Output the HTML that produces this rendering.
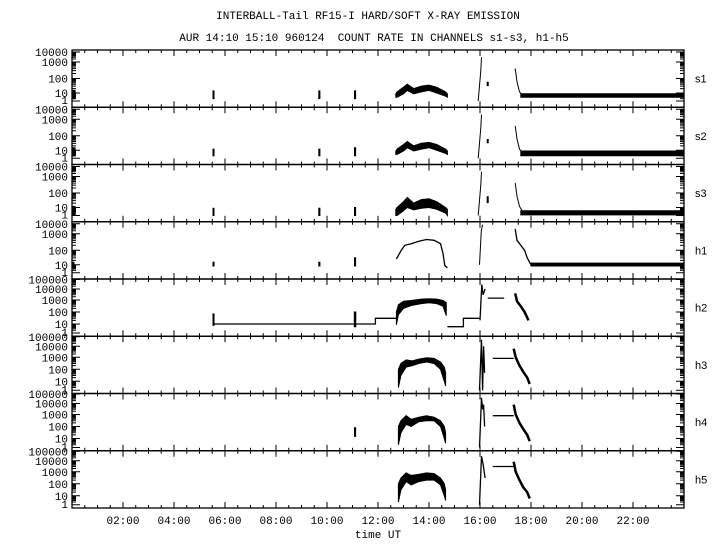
<!DOCTYPE html>
<html><head><meta charset="utf-8"><style>
html,body{margin:0;padding:0;background:#fff;}
svg{display:block;font-family:"Liberation Mono",monospace;}
</style></head><body>
<svg id="chart" width="720" height="550" viewBox="0 0 720 550">
<text x="368" y="19" font-size="11" text-anchor="middle">INTERBALL-Tail RF15-I HARD/SOFT X-RAY EMISSION</text>
<text x="374" y="41" font-size="11" text-anchor="middle" xml:space="preserve">AUR 14:10 15:10 960124  COUNT RATE IN CHANNELS s1-s3, h1-h5</text>
<text x="378" y="538" font-size="11" text-anchor="middle">time UT</text>
<g id="plots"></g>
</svg>
<script>
// ---- data ----
const panelNames = ["s1","s2","s3","h1","h2","h3","h4","h5"];
const xTickLabels = ["02:00","04:00","06:00","08:00","10:00","12:00","14:00","16:00","18:00","20:00","22:00"];
const xTickHours = [2,4,6,8,10,12,14,16,18,20,22];
const sDecades = [10000,1000,100,10,1];
const hDecades = [100000,10000,1000,100,10,1];

// s1
const s1BandT = [0.02,0.12, 5.53,5.57, 9.68,9.72, 11.08,11.12, 12.7,12.75,13.0,13.15,13.4,13.7,14.0,14.3,14.65,14.72, 17.6,24];
const s1BandLo= [2,2, 2,2, 2,2, 2,2, 3,3,8,15,8,12,15,10,4,3, 3,3];
const s1BandHi= [15,15, 14,14, 14,14, 14,14, 8,12,25,40,20,30,35,25,12,8, 8,8];
const s1BandSeg=[0,0, 1,1, 2,2, 3,3, 4,4,4,4,4,4,4,4,4,4, 5,5];
const s1LineT = [15.93,16.03,16.06]; const s1LineV = [1,300,3000];
const s1DecayT = [17.38,17.45,17.55,17.65]; const s1DecayV = [400,60,12,6];
// s2
const s2BandT = [0.02,0.12, 5.53,5.57, 9.68,9.72, 11.08,11.12, 12.7,12.75,13.0,13.15,13.4,13.7,14.0,14.3,14.65,14.72, 17.6,24];
const s2BandLo= [2,2, 2,2, 2,2, 2,2, 3,3,8,15,8,12,15,10,4,3, 2,2];
const s2BandHi= [15,15, 12,12, 12,12, 15,15, 8,12,25,40,20,30,35,25,12,8, 8,8];
const s2BandSeg=[0,0, 1,1, 2,2, 3,3, 4,4,4,4,4,4,4,4,4,4, 5,5];
const s2LineT = [15.93,16.03,16.06]; const s2LineV = [1,300,3000];
const s2DecayT = [17.38,17.45,17.55,17.65]; const s2DecayV = [400,60,12,6];
// s3
const s3BandT = [0.02,0.12, 5.53,5.57, 9.68,9.72, 11.08,11.12, 12.7,12.75,13.0,13.15,13.4,13.7,14.0,14.3,14.65,14.72, 17.6,24];
const s3BandLo= [1,1, 1,1, 1,1, 1,1, 1,1,4,10,5,8,10,6,2,1, 1.2,1.2];
const s3BandHi= [12,12, 8,8, 8,8, 10,10, 6,10,25,50,20,35,40,25,10,6, 4,4];
const s3BandSeg=[0,0, 1,1, 2,2, 3,3, 4,4,4,4,4,4,4,4,4,4, 5,5];
const s3LineT = [15.93,16.03,16.06]; const s3LineV = [1,300,3000];
const s3DecayT = [17.38,17.45,17.55,17.65]; const s3DecayV = [400,60,12,4];
// h1
const h1BandT = [0.02,0.08, 5.53,5.57, 9.68,9.72, 11.08,11.12, 18.0,24];
const h1BandLo= [7,7, 7,7, 7,7, 7,7, 7,7];
const h1BandHi= [15,15, 15,15, 15,15, 30,30, 13,13];
const h1BandSeg=[0,0, 1,1, 2,2, 3,3, 4,4];
const h1LineT = [12.72,12.9,13.05,13.3,13.6,13.9,14.2,14.45,14.55,14.62,14.72];
const h1LineV = [25,90,200,250,350,450,400,250,60,8,4];
const h1SpikeT = [15.98,16.05,16.1]; const h1SpikeV = [10,2000,8000];
const h1DecayT = [17.38,17.45,17.6,17.75,17.85,18.0]; const h1DecayV = [3000,400,200,100,30,10];
// h2
const h2StepT = [5.55,11.9,11.9,12.72,12.72,14.72,14.72,15.35,15.35,16.0];
const h2StepV = [10,10,30,30,null,null,5,5,30,30];
const h2BandT = [5.53,5.57, 11.07,11.13, 12.72,12.8,13.0,13.3,13.7,14.0,14.3,14.55,14.68];
const h2BandLo= [7,7, 5,5, 8,60,200,350,500,600,500,300,50];
const h2BandHi= [70,70, 100,100, 100,400,800,900,1200,1300,1200,900,600];
const h2BandSeg=[0,0, 1,1, 2,2,2,2,2,2,2,2,2];
const h2SpikeT = [16.0,16.07,16.12,16.2]; const h2SpikeV = [20,30000,3000,10000];
const h2PlatT = [16.3,16.95]; const h2PlatV = [1500,1500];
const h2DecayT = [17.38,17.45,17.6,17.75,17.9]; const h2DecayV = [4000,800,300,100,20];
// h3
const h3BandT = [12.8,12.9,13.1,13.35,13.6,13.9,14.2,14.45,14.6,14.65];
const h3BandLo= [2,30,150,200,300,400,300,100,10,3];
const h3BandHi= [100,300,600,500,700,900,800,400,150,50];
const h3SpikeT = [15.98,16.06,16.1,16.14,16.18]; const h3SpikeV = [1,50000,1,10000,50];
const h3PlatT = [16.5,17.32]; const h3PlatV = [800,800];
const h3DecayT = [17.32,17.4,17.55,17.7,17.85,17.95]; const h3DecayV = [6000,1000,200,60,20,5];
// h4
const h4BandT = [11.08,11.12, 12.8,12.9,13.1,13.3,13.6,13.9,14.2,14.45,14.6,14.65];
const h4BandLo= [15,15, 2,30,150,100,250,300,300,100,10,3];
const h4BandHi= [80,80, 100,300,800,400,600,800,600,300,100,30];
const h4BandSeg=[0,0, 1,1,1,1,1,1,1,1,1,1];
const h4SpikeT = [15.98,16.06,16.1,16.14,16.18]; const h4SpikeV = [1,40000,3000,8000,100];
const h4PlatT = [16.5,17.32]; const h4PlatV = [800,800];
const h4DecayT = [17.32,17.4,17.55,17.7,17.85,17.95]; const h4DecayV = [8000,1000,200,60,20,5];
// h5
const h5BandT = [12.8,12.9,13.1,13.3,13.6,13.9,14.2,14.45,14.6,14.65];
const h5BandLo= [2,30,150,80,150,200,200,80,10,3];
const h5BandHi= [100,300,800,500,600,800,700,300,100,30];
const h5SpikeT = [15.98,16.06,16.12,16.2]; const h5SpikeV = [1,30000,5000,300];
const h5PlatT = [16.5,17.32]; const h5PlatV = [3000,3000];
const h5DecayT = [17.32,17.4,17.55,17.7,17.85,17.95]; const h5DecayV = [8000,1000,200,50,20,5];

// ---- layout ----
const X0 = 72, X1 = 684, TOP = 50, BOT = 508;
const PH = (BOT - TOP) / 8;
const sOffs = [2,12,28.5,43,51];
const hOffs = [0.5,10,21,33,45,54];
const NS = "http://www.w3.org/2000/svg";
const root = document.getElementById("plots");

function xScale(t){ return X0 + t * (X1 - X0) / 24; }
function yScale(p, v){
  const dec = p <= 3 ? sDecades : hDecades;
  const offs = p <= 3 ? sOffs : hOffs;
  const top = TOP + p * PH;
  const lv = Math.log10(Math.max(v, 0.5));
  const ld = dec.map(d => Math.log10(d));
  let off;
  if (lv >= ld[0]) off = offs[0];
  else if (lv <= ld[ld.length-1]) off = offs[offs.length-1] + (ld[ld.length-1]-lv)*6;
  else {
    for (let i = 0; i < ld.length-1; i++) {
      if (lv <= ld[i] && lv >= ld[i+1]) {
        const f = (ld[i]-lv)/(ld[i]-ld[i+1]);
        off = offs[i] + f*(offs[i+1]-offs[i]); break;
      }
    }
  }
  return Math.min(top + off, top + PH - 0.5);
}
function mk(tag, attrs){ const e = document.createElementNS(NS, tag); for (const k in attrs) e.setAttribute(k, attrs[k]); return e; }

function drawBand(g, p, T, Lo, Hi, Seg, name){
  const segs = {};
  T.forEach((t,i) => { const s = Seg ? Seg[i] : 0; (segs[s] = segs[s] || []).push(i); });
  Object.keys(segs).forEach(s => {
    const idx = segs[s];
    const up = idx.map(i => xScale(T[i]).toFixed(1)+","+yScale(p,Hi[i]).toFixed(1));
    const dn = idx.slice().reverse().map(i => xScale(T[i]).toFixed(1)+","+yScale(p,Lo[i]).toFixed(1));
    const el = mk("polygon", {points: up.concat(dn).join(" "), fill:"#000", stroke:"#000", "stroke-width":"1"});
    
    
    g.appendChild(el);
  });
}
function drawLine(g, p, T, V, name, w){
  let d = "", pen = false;
  T.forEach((t,i) => {
    if (V[i] === null) { pen = false; return; }
    d += (pen ? "L" : "M") + xScale(t).toFixed(1) + "," + yScale(p,V[i]).toFixed(1);
    pen = true;
  });
  const el = mk("path", {d: d, fill:"none", stroke:"#000", "stroke-width": w || 1.3});
  
  
  g.appendChild(el);
}

for (let p = 0; p < 8; p++) {
  const top = TOP + p * PH, bot = top + PH;
  const g = mk("g", {});
  
  
  root.appendChild(g);
  const frame = mk("rect", {x:X0, y:top, width:X1-X0, height:PH, fill:"none", stroke:"#000", "stroke-width":"1.3"});
  
  
  g.appendChild(frame);
  for (let h = 0; h <= 24; h += 0.5) {
    const x = xScale(h), major = (h % 2 === 0);
    const len = major ? 6 : 3;
    const tk = mk("path", {d:`M${x},${top}v${len}M${x},${bot}v${-len}`, stroke:"#000", "stroke-width":"1"});
    
    
    g.appendChild(tk);
  }
  const dec = p <= 3 ? sDecades : hDecades;
  dec.forEach(dv => {
    const y = yScale(p, dv);
    const tk = mk("path", {d:`M${X0},${y}h8M${X1},${y}h-8`, stroke:"#000", "stroke-width":"1"});
    
    
    g.appendChild(tk);
    const lb = mk("text", {x:68, y:(dv===1? Math.min(y+3,bot+3): y+4), "font-size":"11", "text-anchor":"end"});
    lb.textContent = String(dv);
    
    
    g.appendChild(lb);
    if (dv > 1) for (let m = 2; m <= 9; m++) {
      const ym = yScale(p, dv / 10 * m);
      const mt = mk("path", {d:`M${X0},${ym}h4M${X1},${ym}h-4`, stroke:"#000", "stroke-width":"1"});
      
      
      g.appendChild(mt);
    }
  });
  const pl = mk("text", {x:695, y:top+PH/2+4, "font-size":"11", "font-family":"Liberation Sans, sans-serif"});
  pl.textContent = panelNames[p];
  
  
  g.appendChild(pl);
}
xTickHours.forEach((h,i) => {
  const t = mk("text", {x:xScale(h), y:524, "font-size":"11", "text-anchor":"middle"});
  t.textContent = xTickLabels[i];
  
  
  root.appendChild(t);
});
const D = document.createElementNS(NS,"g"); root.appendChild(D);
drawBand(D,0,s1BandT,s1BandLo,s1BandHi,s1BandSeg,'s1-band'); drawLine(D,0,s1LineT,s1LineV,'s1-spike',1); drawLine(D,0,s1DecayT,s1DecayV,'s1-decay',1);
drawLine(D,0,[16.3,16.3],[30,60],'s1-dot',2);
drawBand(D,1,s2BandT,s2BandLo,s2BandHi,s2BandSeg,'s2-band'); drawLine(D,1,s2LineT,s2LineV,'s2-spike',1); drawLine(D,1,s2DecayT,s2DecayV,'s2-decay',1);
drawLine(D,1,[16.3,16.3],[30,60],'s2-dot',2);
drawBand(D,2,s3BandT,s3BandLo,s3BandHi,s3BandSeg,'s3-band'); drawLine(D,2,s3LineT,s3LineV,'s3-spike',1); drawLine(D,2,s3DecayT,s3DecayV,'s3-decay',1);
drawLine(D,2,[16.3,16.3],[20,60],'s3-dot',2);
drawBand(D,3,h1BandT,h1BandLo,h1BandHi,h1BandSeg,'h1-band'); drawLine(D,3,h1LineT,h1LineV,'h1-curve',1.3); drawLine(D,3,h1SpikeT,h1SpikeV,'h1-spike',1); drawLine(D,3,h1DecayT,h1DecayV,'h1-decay',1.3);
drawLine(D,4,h2StepT,h2StepV,'h2-step-line',1.3); drawBand(D,4,h2BandT,h2BandLo,h2BandHi,h2BandSeg,'h2-band'); drawLine(D,4,h2SpikeT,h2SpikeV,'h2-spike',1.3); drawLine(D,4,h2PlatT,h2PlatV,'h2-plateau',1.3); drawLine(D,4,h2DecayT,h2DecayV,'h2-decay',2.5);
drawBand(D,5,h3BandT,h3BandLo,h3BandHi,null,'h3-band'); drawLine(D,5,h3SpikeT,h3SpikeV,'h3-spike',1.3); drawLine(D,5,h3PlatT,h3PlatV,'h3-plateau',1.3); drawLine(D,5,h3DecayT,h3DecayV,'h3-decay',2.5);
drawBand(D,6,h4BandT,h4BandLo,h4BandHi,h4BandSeg,'h4-band'); drawLine(D,6,h4SpikeT,h4SpikeV,'h4-spike',1.3); drawLine(D,6,h4PlatT,h4PlatV,'h4-plateau',1.3); drawLine(D,6,h4DecayT,h4DecayV,'h4-decay',2.5);
drawBand(D,7,h5BandT,h5BandLo,h5BandHi,null,'h5-band'); drawLine(D,7,h5SpikeT,h5SpikeV,'h5-spike',1.3); drawLine(D,7,h5PlatT,h5PlatV,'h5-plateau',1.3); drawLine(D,7,h5DecayT,h5DecayV,'h5-decay',2.5);
</script>
</body></html>
